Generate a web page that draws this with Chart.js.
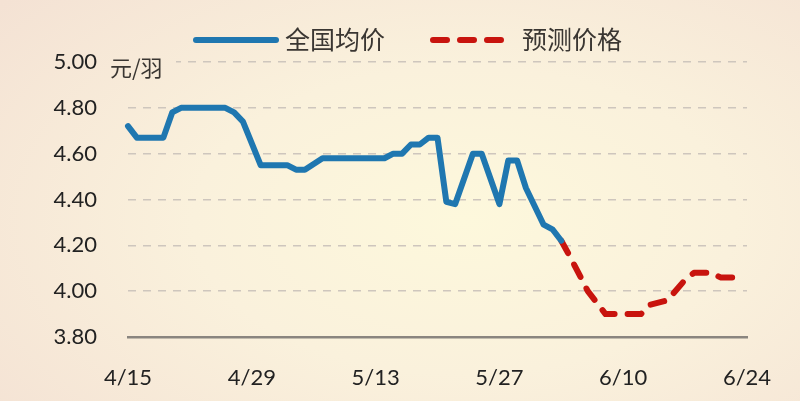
<!DOCTYPE html>
<html>
<head>
<meta charset="utf-8">
<script src="https://cdn.jsdelivr.net/npm/chart.js@4.4.0/dist/chart.umd.min.js"></script>
<style>
  html, body { margin: 0; padding: 0; width: 800px; height: 401px; overflow: hidden; }
  body { background: radial-gradient(ellipse 75% 85% at 58% 55%, #fdf8dc 0%, #faf1dc 45%, #f4e2d4 100%); }
  #wrap { position: relative; width: 800px; height: 401px; }
</style>
</head>
<body>
<div id="wrap"><canvas id="myChart"></canvas></div>
<script>
// x = days after 4/15
var tickLabels = ['4/15', '4/29', '5/13', '5/27', '6/10', '6/24'];
var avgDays   = [0, 1, 4, 5, 6, 11, 12, 13, 15, 18, 19, 20, 22, 29, 30, 31, 32, 33, 34, 35, 36, 37, 39, 40, 42, 43, 44, 45, 47, 48, 49];
var avgPrices = [4.72, 4.67, 4.67, 4.78, 4.80, 4.80, 4.78, 4.74, 4.55, 4.55, 4.53, 4.53, 4.58, 4.58, 4.60, 4.60, 4.64, 4.64, 4.67, 4.67, 4.39, 4.38, 4.60, 4.60, 4.38, 4.57, 4.57, 4.45, 4.29, 4.27, 4.22];
var forecastDays   = [49, 50, 52, 54, 58, 59, 61, 63, 64, 66, 67, 69];
var forecastPrices = [4.22, 4.15, 4.00, 3.90, 3.90, 3.94, 3.96, 4.05, 4.08, 4.08, 4.06, 4.06];

var blue = '#1f77b0';
var red = '#c8140e';

function toPoints(xs, ys) {
    var pts = [];
    for (let i = 0; i < xs.length; i++) {
        pts.push({ x: xs[i], y: ys[i] });
    }
    return pts;
}

// legend + unit label drawn by hand
var extras = {
    id: 'extras',
    afterDraw: function(chart) {
        var ctx = chart.ctx;
        ctx.save();
        ctx.lineCap = 'round';
        ctx.lineWidth = 6;
        ctx.strokeStyle = blue;
        ctx.beginPath();
        ctx.moveTo(196, 40);
        ctx.lineTo(276, 40);
        ctx.stroke();

        ctx.strokeStyle = red;
        ctx.setLineDash([14, 13]);
        ctx.beginPath();
        ctx.moveTo(433, 40);
        ctx.lineTo(504, 40);
        ctx.stroke();
        ctx.setLineDash([]);

        ctx.font = '25px "Noto Sans CJK SC"';
        ctx.fillStyle = '#3a3632';
        ctx.textBaseline = 'middle';
        ctx.fillText('全国均价', 285, 39);
        ctx.fillText('预测价格', 522, 39);

        // let the page background show behind the unit
        ctx.clearRect(106, 54, 70, 30);
        ctx.font = '22px "Noto Sans CJK SC"';
        ctx.fillText('元/羽', 110, 68);
        ctx.restore();
    }
};

var ctx = document.getElementById('myChart');
var myChart = new Chart(ctx, {
    type: 'line',
    data: {
        datasets: [{
            label: '全国均价',
            data: toPoints(avgDays, avgPrices),
            borderColor: blue,
            borderWidth: 6,
            borderJoinStyle: 'round',
            borderCapStyle: 'round',
            pointRadius: 0,
            tension: 0,
            clip: 8
        }, {
            label: '预测价格',
            data: toPoints(forecastDays, forecastPrices),
            borderColor: red,
            borderWidth: 6,
            borderDash: [14, 13],
            borderJoinStyle: 'round',
            borderCapStyle: 'round',
            pointRadius: 0,
            tension: 0,
            clip: 8
        }]
    },
    options: {
        responsive: true,
        maintainAspectRatio: false,
        animation: false,
        layout: { padding: { top: 62, right: 53, left: 0, bottom: 0 } },
        plugins: { legend: { display: false }, tooltip: { enabled: false } },
        scales: {
            x: {
                type: 'linear',
                min: 0,
                max: 70,
                afterFit: function(s) { s.height = 64; },
                grid: { display: false, drawTicks: false },
                border: { display: true, color: '#8a857f', width: 2.5 },
                ticks: {
                    stepSize: 14,
                    padding: 28,
                    color: '#222',
                    font: { family: 'Lato', size: 22 },
                    maxRotation: 0,
                    callback: function(v) { return tickLabels[Math.round(v / 14)]; }
                }
            },
            y: {
                min: 3.8,
                max: 5.0,
                afterFit: function(s) { s.width = 128; },
                grid: {
                    drawTicks: false,
                    lineWidth: 1.5,
                    color: function(c) { return c.tick && c.tick.value < 3.81 ? 'rgba(0,0,0,0)' : '#cec6bd'; }
                },
                border: { display: false, dash: [8, 7] },
                ticks: {
                    stepSize: 0.2,
                    padding: 31,
                    color: '#222',
                    font: { family: 'Lato', size: 22 },
                    callback: function(v) { return v.toFixed(2); }
                }
            }
        }
    },
    plugins: [extras]
});
</script>
</body>
</html>
